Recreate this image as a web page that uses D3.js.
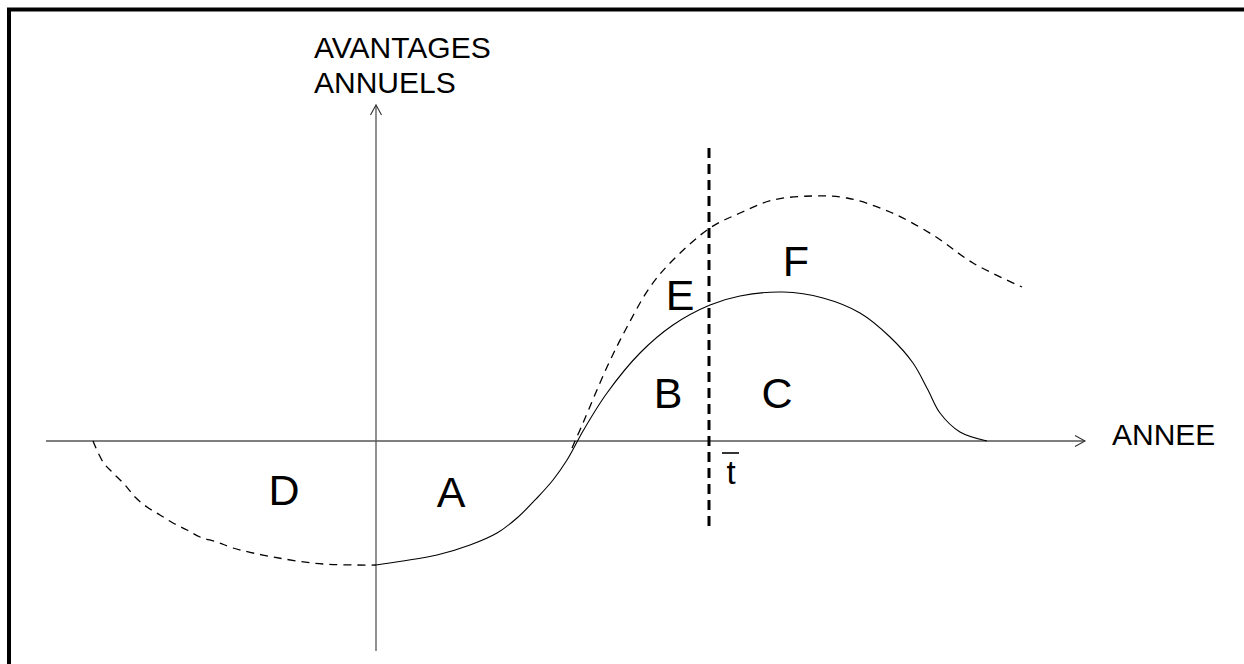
<!DOCTYPE html>
<html>
<head>
<meta charset="utf-8">
<script src="https://cdn.jsdelivr.net/npm/d3@7"></script>
<style>
  html, body { margin: 0; padding: 0; background: #fff; }
  svg { display: block; }
  text { font-family: "Liberation Sans", Arial, sans-serif; fill: #000; }
</style>
</head>
<body>
<svg id="chart" width="1244" height="664"></svg>
<script>
// ---- data (years on x, annual benefits on y, arbitrary units) ----
const axisLabelY = ["AVANTAGES", "ANNUELS"];
const axisLabelX = "ANNEE";
const tBarLabel = "t";
const tBar = 33.3;

// actual benefit curve (solid)
const solidX = [0, 2.7, 6.1, 9.4, 12.1, 14.1, 16.1, 17.7, 19.1, 20.1, 20.7, 23.1, 26.4, 29.7, 33.4, 36.4, 40.7, 44.7, 48.4, 51.4, 53.7, 55.2, 56.4, 58.4, 61.1];
const solidY = [-12.4, -12.0, -11.4, -10.4, -9.2, -7.7, -5.7, -3.9, -1.9, -0.1, 1.0, 4.8, 8.8, 11.6, 13.6, 14.5, 14.9, 14.3, 12.8, 10.4, 7.8, 5.1, 2.8, 0.9, 0];

// earlier-start cost curve (dashed, region D)
const earlyX = [-28.3, -27.3, -26.3, -25.1, -24.1, -22.9, -21.6, -20.3, -18.9, -17.6, -15.9, -14.3, -10.3, -5.3, 0];
const earlyY = [0, -2.1, -3.2, -4.4, -5.6, -6.6, -7.4, -8.2, -8.9, -9.6, -10.1, -10.7, -11.6, -12.3, -12.4];

// upper alternative benefit curve (dashed, regions E/F)
const upperX = [19.6, 20.7, 23.1, 25.1, 27.4, 29.7, 33.4, 36.4, 39.7, 43.7, 47.1, 51.4, 55.7, 59.7, 64.6];
const upperY = [-0.7, 1.8, 7.4, 11.4, 15.4, 18.1, 21.3, 22.8, 24.1, 24.5, 24.3, 22.9, 20.6, 17.8, 15.4];

// region letters
const regionNames = ["A", "B", "C", "D", "E", "F"];
const regionX = [7.5, 29.2, 40.1, -9.2, 30.4, 42.0];
const regionY = [-6.6, 3.3, 3.3, -6.4, 13.1, 16.5];

// extents
const xDomain = [-33, 70.9];
const yDomain = [-21, 33.6];
const tBarSpan = [-8.6, 29.3];

// ---- drawing ----
const svg = d3.select("#chart");
const x = d3.scaleLinear().domain(xDomain).range([46, 1085]);
const y = d3.scaleLinear().domain(yDomain).range([651, 105]);

// frame
svg.append("rect")
  .attr("x", 9).attr("y", 9.5).attr("width", 1400).attr("height", 800)
  .attr("fill", "none").attr("stroke", "#000").attr("stroke-width", 4);

const axisColor = "#555";
// horizontal axis
svg.append("line")
  .attr("x1", x(xDomain[0])).attr("x2", x(xDomain[1]))
  .attr("y1", y(0)).attr("y2", y(0))
  .attr("stroke", axisColor).attr("stroke-width", 1.3);
svg.append("path")
  .attr("d", `M${x(xDomain[1]) - 10},${y(0) - 5.5}L${x(xDomain[1])},${y(0)}L${x(xDomain[1]) - 10},${y(0) + 5.5}`)
  .attr("fill", "none").attr("stroke", "#333").attr("stroke-width", 1.1);

// vertical axis
svg.append("line")
  .attr("x1", x(0)).attr("x2", x(0))
  .attr("y1", y(yDomain[0])).attr("y2", y(yDomain[1]))
  .attr("stroke", axisColor).attr("stroke-width", 1.3);
svg.append("path")
  .attr("d", `M${x(0) - 5.5},${y(yDomain[1]) + 10}L${x(0)},${y(yDomain[1])}L${x(0) + 5.5},${y(yDomain[1]) + 10}`)
  .attr("fill", "none").attr("stroke", "#333").attr("stroke-width", 1.1);

const line = d3.line().x(d => x(d[0])).y(d => y(d[1])).curve(d3.curveCatmullRom.alpha(0.5));

svg.append("path")
  .attr("d", line(solidX.map((v, i) => [v, solidY[i]])))
  .attr("fill", "none").attr("stroke", "#000").attr("stroke-width", 1.1);

svg.append("path")
  .attr("d", line(earlyX.map((v, i) => [v, earlyY[i]])))
  .attr("fill", "none").attr("stroke", "#000").attr("stroke-width", 1.3)
  .attr("stroke-dasharray", "8,6");

svg.append("path")
  .attr("d", line(upperX.map((v, i) => [v, upperY[i]])))
  .attr("fill", "none").attr("stroke", "#000").attr("stroke-width", 1.3)
  .attr("stroke-dasharray", "8,6");

// t-bar vertical dashed line
svg.append("line")
  .attr("x1", x(tBar)).attr("x2", x(tBar))
  .attr("y1", y(tBarSpan[1])).attr("y2", y(tBarSpan[0]))
  .attr("stroke", "#000").attr("stroke-width", 3)
  .attr("stroke-dasharray", "10,6");

// t-bar label
svg.append("text")
  .attr("x", x(tBar) + 22).attr("y", 484)
  .attr("text-anchor", "middle").attr("font-size", 33)
  .text(tBarLabel);
svg.append("line")
  .attr("x1", x(tBar) + 13).attr("x2", x(tBar) + 30)
  .attr("y1", 453).attr("y2", 453)
  .attr("stroke", "#000").attr("stroke-width", 1.6);

// region letters
svg.selectAll("text.region")
  .data(regionNames)
  .join("text")
  .attr("class", "region")
  .attr("x", (d, i) => x(regionX[i]))
  .attr("y", (d, i) => y(regionY[i]))
  .attr("text-anchor", "middle")
  .attr("font-size", 43)
  .text(d => d);

// axis titles
svg.selectAll("text.ytitle")
  .data(axisLabelY)
  .join("text")
  .attr("class", "ytitle")
  .attr("x", 314)
  .attr("y", (d, i) => 58 + i * 35)
  .attr("font-size", 30)
  .text(d => d);

svg.append("text")
  .attr("x", 1112).attr("y", 445)
  .attr("font-size", 30)
  .text(axisLabelX);
</script>
</body>
</html>
